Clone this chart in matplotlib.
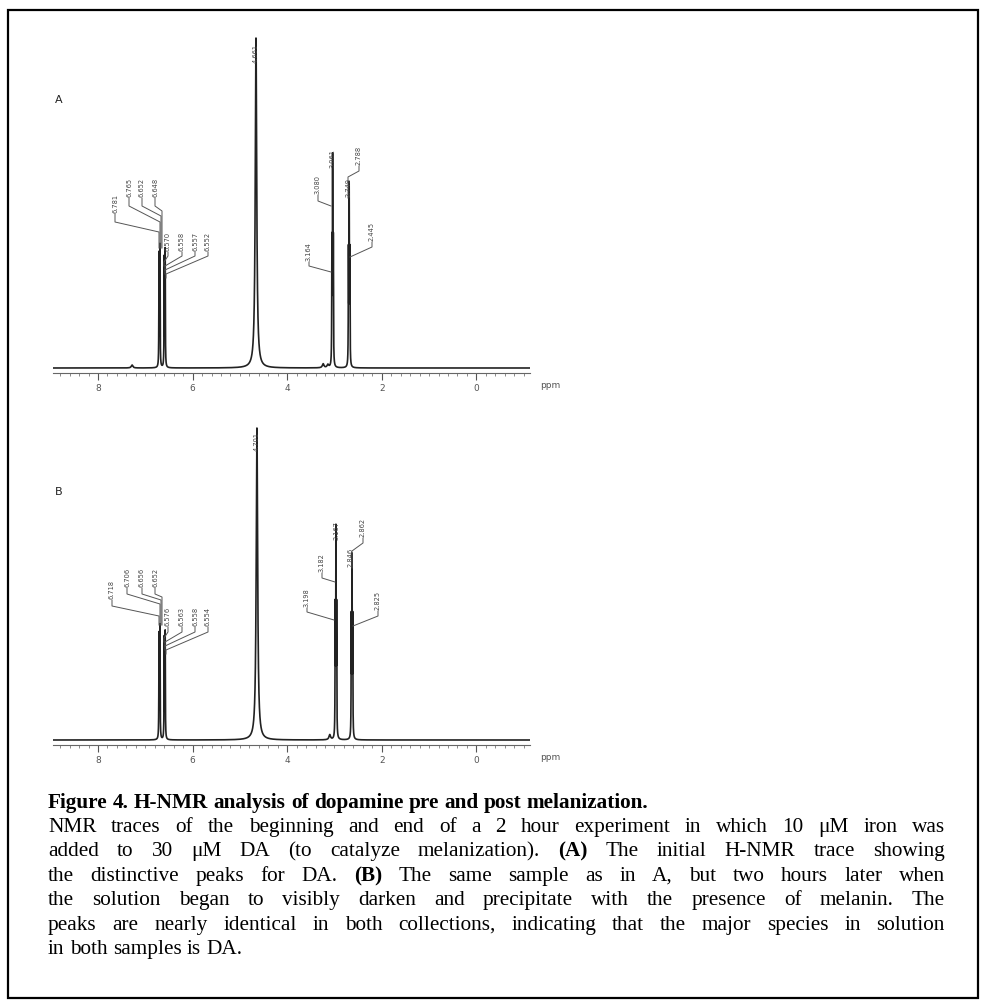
import matplotlib.pyplot as plt
import numpy as np
from matplotlib.patches import Rectangle
from matplotlib.ticker import FixedLocator, MultipleLocator

# ---- data (chemical shift in ppm, height in px above baseline) ----
peaks_a_ppm = [7.28, 6.71, 6.69, 6.60, 6.58, 4.66, 3.24, 3.14, 3.055, 3.04, 3.025, 2.705, 2.69, 2.675]
peaks_a_h = [3, 112, 120, 108, 116, 330, 4, 3, 120, 199, 120, 110, 172, 110]
peaks_a_w = [0.02, 0.004, 0.004, 0.004, 0.004, 0.018, 0.02, 0.02, 0.004, 0.004, 0.004, 0.004, 0.004, 0.004]

peaks_b_ppm = [6.71, 6.69, 6.60, 6.58, 4.64, 3.10, 2.985, 2.97, 2.955, 2.645, 2.63, 2.615]
peaks_b_h = [104, 112, 100, 106, 312, 5, 125, 199, 125, 115, 172, 115]
peaks_b_w = [0.004, 0.004, 0.004, 0.004, 0.018, 0.02, 0.004, 0.004, 0.004, 0.004, 0.004, 0.004]

tick_ppm = [8, 6, 4, 2, 0]
tick_labels = ["8", "6", "4", "2", "0"]

labels_a = ["6.781", "6.765", "6.652", "6.648", "6.570", "6.558", "6.557", "6.552",
            "4.661", "3.164", "3.080", "3.061", "2.788", "2.749", "2.445"]
labels_b = ["6.718", "6.706", "6.656", "6.652", "6.576", "6.563", "6.558", "6.554",
            "4.701", "3.198", "3.182", "3.167", "2.862", "2.846", "2.825"]

W, H = 987, 1008
fig = plt.figure(figsize=(W / 100, H / 100), dpi=100)


def fx(px):
    return px / W


def fy(py):
    return 1 - py / H


def to_ppm(x):
    """pixel column -> ppm (8 ppm at x=98, 47.3 px per ppm)"""
    return 8 - (x - 98) / 47.3


# leader layout for the peak labels, in pixels:
# (label x, label bottom y, elbow1 y, target x, elbow2 y, end y)
lead_a = [(115, 214, 222, 159, 232, 248), (129, 198, 206, 160, 222, 248),
          (142, 198, 206, 161, 216, 248), (155, 198, 206, 162, 211, 248),
          (168, 252, 256, 164, 262, 266), (182, 252, 256, 165, 266, 270),
          (195, 252, 256, 165, 270, 274), (208, 252, 256, 166, 274, 278),
          (256, 64, 64, 256, 64, 64),
          (309, 262, 266, 331, 272, 272), (318, 195, 201, 331, 206, 206),
          (333, 169, 169, 333, 169, 169), (359, 166, 171, 348, 177, 198),
          (349, 198, 198, 349, 198, 198), (372, 242, 247, 350, 257, 257)]
lead_b = [(112, 600, 606, 159, 616, 625), (127, 588, 594, 160, 604, 625),
          (142, 588, 594, 161, 600, 625), (155, 588, 594, 162, 597, 625),
          (168, 627, 632, 164, 638, 642), (182, 627, 632, 165, 642, 646),
          (195, 627, 632, 165, 646, 650), (208, 627, 632, 166, 650, 654),
          (257, 452, 452, 257, 452, 452),
          (307, 608, 612, 334, 620, 620), (322, 573, 578, 335, 582, 582),
          (337, 541, 541, 337, 541, 541), (363, 538, 543, 352, 551, 568),
          (351, 568, 568, 351, 568, 568), (378, 611, 616, 353, 626, 626)]


def panel(ax_line_y, top_y, pk, hh, ww, labels, leads, letter, letter_y):
    ax = fig.add_axes([fx(53), fy(ax_line_y), fx(530 - 53), (ax_line_y - top_y) / H])
    ax.set_xlim(to_ppm(53), to_ppm(530))
    ax.set_ylim(0, ax_line_y - top_y)
    x = np.linspace(to_ppm(53), to_ppm(530), 30000)
    y = np.full_like(x, 5.0)
    for p, h, g in zip(pk, hh, ww):
        y += h * g ** 2 / ((x - p) ** 2 + g ** 2)
    ax.plot(x, y, color='#222222', lw=1.2)

    for s in ['top', 'left', 'right']:
        ax.spines[s].set_visible(False)
    ax.spines['bottom'].set_color('#666666')
    ax.spines['bottom'].set_linewidth(0.8)
    ax.set_yticks([])
    ax.xaxis.set_major_locator(FixedLocator(tick_ppm))
    ax.set_xticklabels(tick_labels)
    ax.xaxis.set_minor_locator(MultipleLocator(0.2))
    ax.tick_params(axis='x', which='major', direction='out', length=5, width=0.8,
                   colors='#555555', labelsize=6.5, pad=3)
    ax.tick_params(axis='x', which='minor', direction='out', length=2.5, width=0.6,
                   colors='#777777')
    ax.text(to_ppm(550), -13, "ppm", fontsize=6.5, color='#555555',
            ha='center', va='center', clip_on=False)

    for txt, (lx, lb, e1, tx, e2, ty) in zip(labels, leads):
        hy = lambda v: ax_line_y - v
        ax.text(to_ppm(lx), hy(lb) + 1, txt, rotation=90, fontsize=4.8, color='#444444',
                ha='center', va='bottom')
        ax.plot([to_ppm(lx), to_ppm(lx), to_ppm(tx), to_ppm(tx)],
                [hy(lb), hy(e1), hy(e2), hy(ty)], color='#555555', lw=0.7)

    fig.text(fx(55), fy(letter_y), letter, fontsize=8, color='#222222',
             ha='left', va='center')


panel(373, 25, peaks_a_ppm, peaks_a_h, peaks_a_w, labels_a, lead_a, "A", 100)
panel(745, 400, peaks_b_ppm, peaks_b_h, peaks_b_w, labels_b, lead_b, "B", 492)

# ---- caption (justified by hand, word by word) ----
FS = 15.3
FAM = 'Liberation Serif'
L, R = 48, 945
renderer = fig.canvas.get_renderer()


def put_line(segments, y_px, justify):
    words = []
    for text, wt in segments:
        for w in text.split():
            words.append((w, wt))
    objs = [fig.text(0, fy(y_px + 5), w, fontsize=FS, family=FAM, weight=wt, va='baseline')
            for w, wt in words]
    widths = [t.get_window_extent(renderer).width for t in objs]
    if justify and len(objs) > 1:
        gap = (R - L - sum(widths)) / (len(objs) - 1)
    else:
        gap = FS * 100 / 72 * 0.25
    xx = L
    for t, w in zip(objs, widths):
        t.set_x(fx(xx))
        xx += w + gap


put_line([("Figure 4. H-NMR analysis of dopamine pre and post melanization.", 'bold')], 803, False)
put_line([("NMR traces of the beginning and end of a 2 hour experiment in which 10 \u03bcM iron was", 'normal')], 827, True)
put_line([("added to 30 \u03bcM DA (to catalyze melanization).", 'normal'), ("(A)", 'bold'),
          ("The initial H-NMR trace showing", 'normal')], 851, True)
put_line([("the distinctive peaks for DA.", 'normal'), ("(B)", 'bold'),
          ("The same sample as in A, but two hours later when", 'normal')], 876, True)
put_line([("the solution began to visibly darken and precipitate with the presence of melanin. The", 'normal')], 900, True)
put_line([("peaks are nearly identical in both collections, indicating that the major species in solution", 'normal')], 925, True)
put_line([("in both samples is DA.", 'normal')], 949, False)

fig.patches.append(Rectangle((fx(8), fy(998)), fx(978 - 8), (998 - 10) / H,
                             transform=fig.transFigure, fill=False, lw=1.6,
                             edgecolor='black'))

fig.savefig("out.png", dpi=100)
